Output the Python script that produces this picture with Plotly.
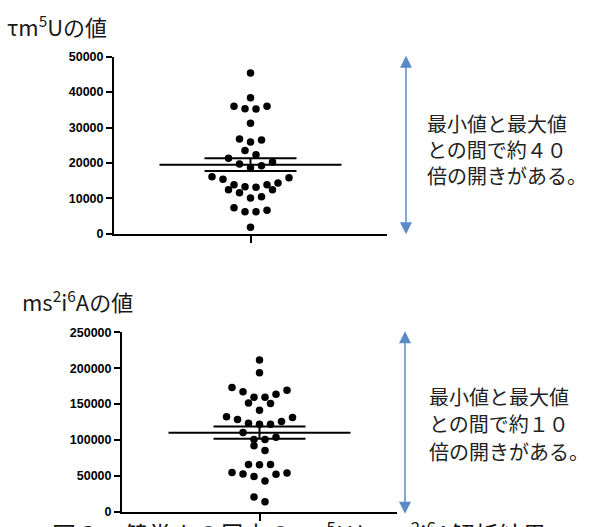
import numpy as np
import plotly.graph_objects as go

W, H = 605, 527

# ---------------- data ----------------
top_values = [45400, 38380, 36000, 35300, 35250, 36000, 31230, 26730, 25910, 26460,
              23540, 22340, 21340, 19690, 18680, 19230, 20240, 16120, 15380, 13820,
              13270, 13150, 13820, 14370, 15850, 12450, 11620, 10080, 10440, 12450,
              7340, 6240, 6240, 6680, 1840]
bottom_values = [211400, 193750, 172960, 167100, 159380, 159380, 163860, 169300, 151630, 150800,
                 141300, 131250, 125800, 121740, 121740, 123100, 128530, 132200, 110460, 103670,
                 100540, 100540, 91850, 85050, 65630, 65220, 65630, 54350, 52400, 48910,
                 52200, 53800, 42530, 13590, 20380]
top_ticks = [0, 10000, 20000, 30000, 40000, 50000]
bottom_ticks = [0, 50000, 100000, 150000, 200000, 250000]
top_title = "τm<sup>5</sup>Uの値"
bottom_title = "ms<sup>2</sup>i<sup>6</sup>Aの値"
top_note_lines = ["最小値と最大値", "との間で約４０", "倍の開きがある。"]
bottom_note_lines = ["最小値と最大値", "との間で約１０", "倍の開きがある。"]
caption = "図３　健常人の尿中のτm<sup>5</sup>Uとms<sup>2</sup>i<sup>6</sup>A解析結果"

# ---------------- layout (pixels) ----------------
TOP = dict(x0=114, x1=387, y0=51, y1=233, ymax=50000)
BOT = dict(x0=122, x1=397, y0=334.3, y1=518.3, ymax=250000)
DOT = 11.0          # spacing between neighbouring dots, px
MEAN_HALF = 91.0    # px
SEM_HALF = 46.0     # px
ARROW_COLOR = "#5B8BC7"
TXT_FONT = "Noto Sans CJK JP"


def swarm(values, px_per_val, px_per_x, dot=DOT):
    v = np.asarray(values, float)
    order = np.argsort(v, kind="stable")
    xs = np.zeros(len(v))
    h = dot / px_per_val
    i = 0
    while i < len(order):
        start = v[order[i]]
        j = i
        while j < len(order) and v[order[j]] - start < h:
            j += 1
        row = order[i:j]
        n = len(row)
        slots = []
        if n % 2 == 1:
            slots = [0]
            k = 1
        else:
            k = 0.5
        while len(slots) < n:
            slots += [k, -k]
            k += 1
        for idx, s in zip(row, slots[:n]):
            xs[idx] = s * dot / px_per_x
        i = j
    return xs


fig = go.Figure()


def add_panel(values, box, ticks, xa, ya):
    px_per_val = (box["y1"] - box["y0"]) / box["ymax"]
    px_per_x = (box["x1"] - box["x0"]) / 2.0
    xs = swarm(values, px_per_val, px_per_x)
    arr = np.asarray(values, float)
    mean = arr.mean()
    sem = arr.std(ddof=1) / np.sqrt(len(arr))
    fig.add_trace(go.Scatter(x=xs, y=values, mode="markers", xaxis=xa, yaxis=ya,
                             marker=dict(size=7.5, color="black"), cliponaxis=False,
                             hoverinfo="y", showlegend=False))
    mh = MEAN_HALF / px_per_x
    sh = SEM_HALF / px_per_x
    fig.add_trace(go.Scatter(x=[-mh, mh], y=[mean, mean], mode="lines", xaxis=xa, yaxis=ya,
                             line=dict(color="black", width=2), cliponaxis=False,
                             hoverinfo="skip", showlegend=False))
    fig.add_trace(go.Scatter(x=[-sh, sh, None, -sh, sh, None, 0, 0],
                             y=[mean + sem, mean + sem, None, mean - sem, mean - sem, None,
                                mean + sem, mean - sem],
                             mode="lines", xaxis=xa, yaxis=ya,
                             line=dict(color="black", width=2), cliponaxis=False,
                             hoverinfo="skip", showlegend=False))
    xdom = [box["x0"] / W, box["x1"] / W]
    ydom = [1 - box["y1"] / H, 1 - box["y0"] / H]
    xkey = "xaxis" if xa == "x" else "xaxis" + xa[1:]
    ykey = "yaxis" if ya == "y" else "yaxis" + ya[1:]
    fig.layout[xkey] = dict(domain=xdom, range=[-1, 1], anchor=ya, showgrid=False,
                            zeroline=False, showline=True, linecolor="black", linewidth=2,
                            ticks="outside", tickvals=[0], ticklen=7, tickwidth=2,
                            tickcolor="black", showticklabels=False, fixedrange=True)
    fig.layout[ykey] = dict(domain=ydom, range=[0, box["ymax"]], anchor=xa, showgrid=False,
                            zeroline=False, showline=True, linecolor="black", linewidth=2,
                            ticks="outside", tickvals=ticks, ticktext=[str(t) for t in ticks],
                            ticklen=6, tickwidth=2, tickcolor="black",
                            tickfont=dict(family="Liberation Sans", size=12.5, color="black",
                                          weight="bold"),
                            fixedrange=True)


add_panel(top_values, TOP, top_ticks, "x", "y")
add_panel(bottom_values, BOT, bottom_ticks, "x2", "y2")

ann = []


def txt(text, xpx, ypx, size, xanchor="left", yanchor="middle", color="#1a1a1a"):
    ann.append(dict(text=text, x=xpx / W, y=1 - ypx / H, xref="paper", yref="paper",
                    xanchor=xanchor, yanchor=yanchor, showarrow=False, align="left",
                    font=dict(family=TXT_FONT, size=size, color=color)))


txt(top_title, 5, 19, 22)
txt(bottom_title, 20, 302, 22)
for line, yc in zip(top_note_lines, [120, 146.7, 173.3]):
    txt(line, 425, yc, 20, color="#222")
for line, yc in zip(bottom_note_lines, [400, 428.3, 456.7]):
    txt(line, 427, yc, 20, color="#222")
txt(caption, 50, 520, 24, yanchor="top", color="#111")


def arrow(xpx, ytop, ybot):
    ann.append(dict(text="", x=xpx / W, y=1 - ytop / H, xref="paper", yref="paper",
                    ax=0, ay=ybot - ytop, axref="pixel", ayref="pixel",
                    showarrow=True, arrowside="end+start", arrowhead=2, startarrowhead=2,
                    arrowsize=1.6, startarrowsize=1.6, arrowwidth=1.5, arrowcolor=ARROW_COLOR,
                    standoff=0, startstandoff=0))


arrow(406, 50, 230)
arrow(405, 333, 517)

fig.update_layout(width=W, height=H, margin=dict(l=0, r=0, t=0, b=0),
                  paper_bgcolor="white", plot_bgcolor="white", annotations=ann,
                  showlegend=False)

fig.write_html("out.html", config={"displayModeBar": False},
               post_script="document.body.style.margin='0';"
                           "document.documentElement.style.overflow='hidden';")
